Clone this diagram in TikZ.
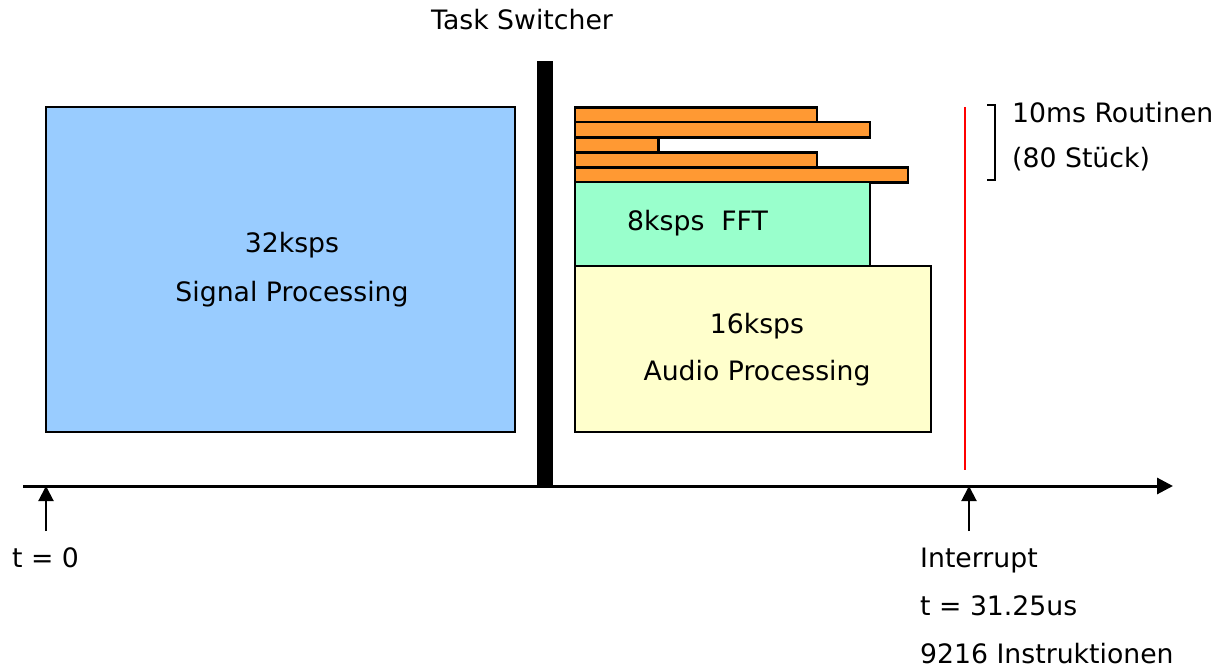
\documentclass[tikz,border=0pt]{standalone}
\usepackage{fontspec}
\setmainfont{DejaVu Sans}
\usetikzlibrary{arrows.meta}
\definecolor{blueP}{HTML}{99CCFF}
\definecolor{orangeP}{HTML}{FF9933}
\definecolor{greenP}{HTML}{99FFCC}
\definecolor{yellowP}{HTML}{FFFFCC}
\definecolor{redP}{HTML}{FF0000}
\begin{document}
\begin{tikzpicture}[x=1pt,y=-1pt,
  lbl/.style={font=\fontsize{26.7}{30}\selectfont, inner sep=0pt, anchor=base},
  lblw/.style={lbl, anchor=base west},
  box/.style={draw=black, line width=2pt},
  bar/.style={draw=black, line width=2.5pt, fill=orangeP},
  uparrow/.style={line width=2pt, -{Triangle[length=15pt,width=15pt]}}]
\useasboundingbox (0,0) rectangle (1219,668);
% boxes
\draw[box, fill=blueP] (46,107) rectangle (515,432);
\node[lbl] (t32) at (292,253) {32ksps};
\node[lbl] (tsig) at (292,302) {Signal Processing};
% task switcher bar
\fill[black] (537,61) rectangle (553,486);
\node[lbl] (tts) at (522,30) {Task Switcher};
% orange bars
\draw[bar] (575,107.5) rectangle (817,122);
\draw[bar] (575,122) rectangle (870,137.5);
\draw[bar] (575,137.5) rectangle (658.5,152.5);
\draw[bar] (575,152.5) rectangle (817,167.5);
\draw[bar] (575,167.5) rectangle (908,182.5);
% FFT and audio
\draw[box, fill=greenP] (575,182.5) rectangle (870,266);
\node[lblw] (tfft) at (627,231) {8ksps\ \ FFT};
\draw[box, fill=yellowP] (575,266) rectangle (931,432);
\node[lbl] (t16) at (757,334) {16ksps};
\node[lbl] (taud) at (757,381) {Audio Processing};
% red line
\draw[redP, line width=1.5pt] (965,107) -- (965,470);
% bracket
\draw[line width=1.5pt] (987,105) -- (995,105) -- (995,180) -- (987,180);
\node[lblw] (trout) at (1012,123) {10ms Routinen};
\node[lblw] (tstk) at (1012,168) {(80 Stück)};
% axis
\coordinate (axs) at (23,486);
\coordinate (axe) at (1173,486);
\draw[line width=3pt, -{Triangle[length=16pt,width=16pt]}] (axs) -- (axe);
% up arrows
\coordinate (a0b) at (46,531);
\coordinate (a0t) at (46,486);
\coordinate (a1b) at (969,531);
\coordinate (a1t) at (969,486);
\draw[uparrow] (a0b) -- (a0t);
\draw[uparrow] (a1b) -- (a1t);
\node[lblw] (tt0) at (12,567) {t = 0};
\node[lblw] (tint) at (920,567) {Interrupt};
\node[lblw] (tt1) at (920,615) {t = 31.25us};
\node[lblw] (tins) at (920,663) {9216 Instruktionen};
\end{tikzpicture}
\end{document}
